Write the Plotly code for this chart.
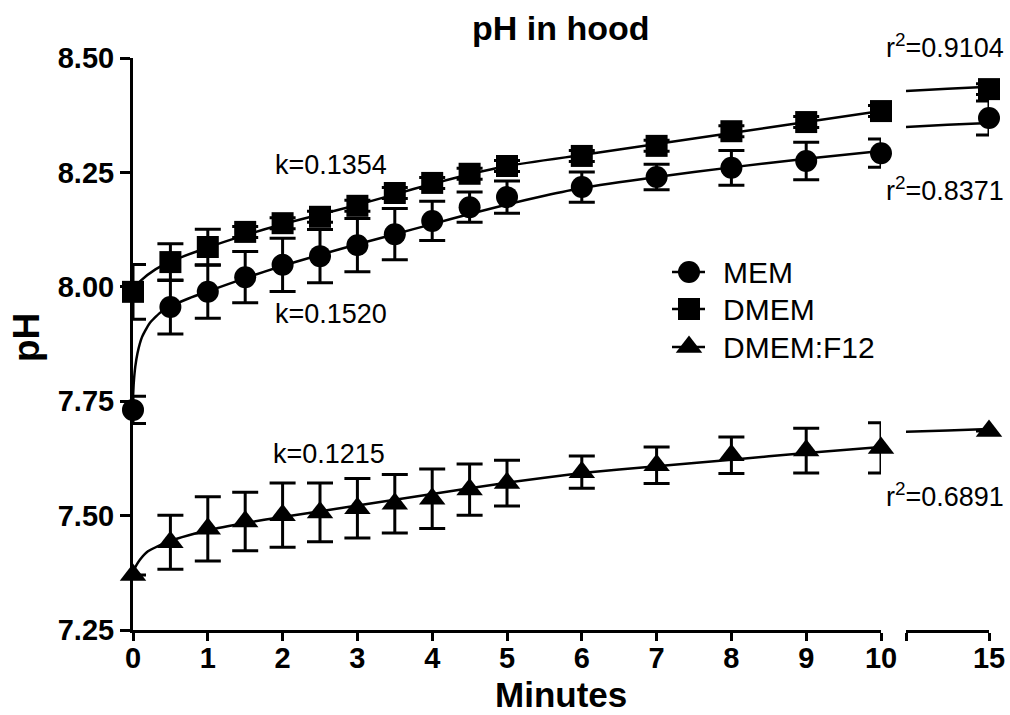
import plotly.graph_objects as go

# ---------------- data ----------------
minutes = [0, 0.5, 1, 1.5, 2, 2.5, 3, 3.5, 4, 4.5, 5, 6, 7, 8, 9, 10, 15]

mem_mean = [7.731, 7.956, 7.989, 8.021, 8.048, 8.067, 8.091, 8.115, 8.144,
            8.174, 8.196, 8.218, 8.240, 8.260, 8.275, 8.292, 8.369]
mem_sd = [0.030, 0.059, 0.058, 0.056, 0.058, 0.058, 0.058, 0.056, 0.043,
          0.033, 0.035, 0.033, 0.028, 0.038, 0.041, 0.031, 0.037]

dmem_mean = [7.989, 8.054, 8.087, 8.120, 8.139, 8.153, 8.177, 8.205, 8.227,
             8.247, 8.264, 8.286, 8.308, 8.340, 8.360, 8.384, 8.432]
dmem_sd = [0.060, 0.040, 0.039, 0.012, 0.012, 0.012, 0.012, 0.012, 0.012,
           0.012, 0.012, 0.012, 0.012, 0.012, 0.012, 0.012, 0.012]

f12_mean = [7.370, 7.442, 7.471, 7.487, 7.501, 7.507, 7.516, 7.526, 7.537,
            7.557, 7.571, 7.595, 7.610, 7.632, 7.642, 7.648, 7.685]
f12_sd = [0.0, 0.059, 0.070, 0.064, 0.070, 0.064, 0.065, 0.064, 0.065,
          0.056, 0.050, 0.035, 0.040, 0.040, 0.049, 0.055, 0.0]

# fitted curves
mem_fit_x = [0, 0.01, 0.03, 0.06, 0.12, 0.22, 0.36, 0.5, 0.75, 1, 1.5, 2, 2.5,
             3, 3.5, 4, 4.5, 5, 5.5, 6, 7, 8, 9, 10]
mem_fit_y = [7.758, 7.790, 7.825, 7.855, 7.890, 7.920, 7.943, 7.957, 7.975,
             7.990, 8.019, 8.046, 8.070, 8.093, 8.115, 8.137, 8.159, 8.180,
             8.199, 8.216, 8.240, 8.261, 8.280, 8.297]

dmem_fit_x = [0, 0.1, 0.3, 0.5, 1, 1.5, 2, 2.5, 3, 3.5, 4, 4.5, 5, 6, 7, 8, 9, 10]
dmem_fit_y = [7.995, 8.013, 8.038, 8.055, 8.086, 8.113, 8.137, 8.158, 8.179,
              8.202, 8.225, 8.246, 8.264, 8.288, 8.312, 8.336, 8.360, 8.384]

f12_fit_x = [0, 0.04, 0.09, 0.2, 0.5, 1, 1.5, 2, 3, 4, 5, 6, 7, 8, 9, 10]
f12_fit_y = [7.377, 7.390, 7.403, 7.422, 7.445, 7.468, 7.484, 7.497, 7.522,
             7.547, 7.572, 7.593, 7.608, 7.622, 7.637, 7.650]

seg2_fit_x = [14.0, 14.5, 15.0]
mem_fit2_y = [8.349, 8.354, 8.358]
dmem_fit2_y = [8.428, 8.433, 8.437]
f12_fit2_y = [7.683, 7.686, 7.689]

series_names = ["MEM", "DMEM", "DMEM:F12"]
k_labels = ["k=0.1520", "k=0.1354", "k=0.1215"]
r2_labels = ["r<sup>2</sup>=0.8371", "r<sup>2</sup>=0.9104", "r<sup>2</sup>=0.6891"]
y_ticks = [7.25, 7.50, 7.75, 8.00, 8.25, 8.50]
x_ticks = [0, 1, 2, 3, 4, 5, 6, 7, 8, 9, 10]

# ---------------- styling / layout geometry ----------------
FONT = "Liberation Sans, Arial, Helvetica, sans-serif"
BLACK = "#000000"
symbols = ["circle", "square", "triangle-up"]
msizes = [22, 22, 23]

W, H = 1010, 715
L, R, T, B = 133, 21, 58, 85
plot_w = W - L - R
plot_h = H - T - B


def px_x(px):
    return (px - L) / plot_w


def px_y(py):
    return (H - B - py) / plot_h


fig = go.Figure()

split = minutes.index(15)


def add_fit(x, y, xa):
    fig.add_trace(go.Scatter(x=x, y=y, mode="lines", xaxis=xa, yaxis="y",
                             line=dict(color=BLACK, width=2.5, shape="spline", smoothing=0.5),
                             hoverinfo="skip", showlegend=False, cliponaxis=False))


for fx, fy in [(mem_fit_x, mem_fit_y), (dmem_fit_x, dmem_fit_y), (f12_fit_x, f12_fit_y)]:
    add_fit(fx, fy, "x")
for fy in [mem_fit2_y, dmem_fit2_y, f12_fit2_y]:
    add_fit(seg2_fit_x, fy, "x2")

for name, mean, sd, sym, ms in zip(series_names, [mem_mean, dmem_mean, f12_mean],
                                   [mem_sd, dmem_sd, f12_sd], symbols, msizes):
    for xa, sl in [("x", slice(0, split)), ("x2", slice(split, None))]:
        fig.add_trace(go.Scatter(
            x=minutes[sl], y=mean[sl], mode="markers", xaxis=xa, yaxis="y",
            name=name, showlegend=False, cliponaxis=False,
            marker=dict(symbol=sym, size=ms, color=BLACK, line=dict(width=0)),
            error_y=dict(type="data", array=sd[sl], visible=True,
                         color=BLACK, thickness=3, width=13)))

# ---------------- manual legend (pixel-unit helper axis) ----------------
leg_rows = [272, 309, 347]
for name, sym, ms, ly in zip(series_names, symbols, msizes, leg_rows):
    fig.add_trace(go.Scatter(x=[672, 705], y=[ly, ly], mode="lines", xaxis="x3", yaxis="y3",
                             line=dict(color=BLACK, width=2.5), hoverinfo="skip",
                             showlegend=False, cliponaxis=False))
    fig.add_trace(go.Scatter(x=[689], y=[ly], mode="markers", xaxis="x3", yaxis="y3",
                             marker=dict(symbol=sym, size=ms, color=BLACK),
                             hoverinfo="skip", showlegend=False, cliponaxis=False))

annotations = []


def add_text(px, py, text, size, xanchor="center", bold=False, angle=0):
    annotations.append(dict(x=px_x(px), y=px_y(py), xref="paper", yref="paper", text=text,
                            showarrow=False, xanchor=xanchor, yanchor="middle",
                            textangle=angle,
                            font=dict(family=FONT, size=size, color=BLACK,
                                      weight="bold" if bold else "normal")))


for name, ly in zip(series_names, leg_rows):
    add_text(721, ly, name, 30, xanchor="left")

for txt, (ax, ay) in zip(k_labels, [(273, 314), (273, 165), (271, 454)]):
    add_text(ax, ay, txt, 27, xanchor="left")
for txt, (ax, ay) in zip(r2_labels, [(1006, 189), (1006, 46), (1006, 495)]):
    add_text(ax, ay, txt, 27, xanchor="right")

add_text(561, 28, "pH in hood", 34, bold=True)
add_text(561, 695, "Minutes", 35, bold=True)
add_text(26, 338, "pH", 37, bold=True, angle=-90)

seg1_end = (881 - L) / plot_w
seg2_start = (906 - L) / plot_w

tickfont = dict(family=FONT, size=29, color=BLACK, weight="bold")
axis_common = dict(showgrid=False, zeroline=False, showline=True, linecolor=BLACK,
                   linewidth=3, ticks="outside", tickcolor=BLACK, tickwidth=3,
                   tickfont=tickfont, fixedrange=True, automargin=False)

fig.update_layout(
    width=W, height=H, autosize=False,
    margin=dict(l=L, r=R, t=T, b=B, autoexpand=False),
    paper_bgcolor="white", plot_bgcolor="rgba(0,0,0,0)",
    showlegend=False,
    xaxis=dict(domain=[0, seg1_end], range=[0, 10], tickvals=x_ticks, ticklen=8,
               ticklabelstandoff=-8, anchor="y", **axis_common),
    xaxis2=dict(domain=[seg2_start, 1], range=[14.0, 15.0], tickvals=[14.0, 15],
                ticktext=["", "15"], ticklen=8, ticklabelstandoff=-8, anchor="y",
                **axis_common),
    yaxis=dict(domain=[0, 1], range=[7.25, 8.50], tickvals=y_ticks, tickformat=".2f",
               ticklen=10, anchor="x", **axis_common),
    xaxis3=dict(domain=[0, 1], range=[L, W - R], visible=False, anchor="y3", fixedrange=True),
    yaxis3=dict(domain=[0, 1], range=[H - B, T], visible=False, anchor="x3", fixedrange=True),
    annotations=annotations,
)

fig.write_html("out.html",
               config={"displayModeBar": False, "responsive": False},
               post_script="document.body.style.margin='0';document.body.style.overflow='hidden';")
